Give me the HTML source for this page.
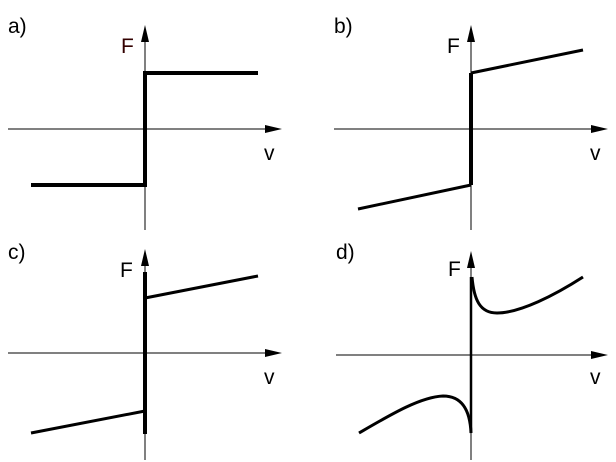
<!DOCTYPE html>
<html><head><style>
html,body{margin:0;padding:0;background:#fff;}
svg{display:block;}
text{font-family:"Liberation Sans",sans-serif;font-size:21px;fill:#000;}
</style></head><body>
<svg width="616" height="462" viewBox="0 0 616 462">
<g stroke="#000" fill="none">
<line x1="8" y1="129" x2="268" y2="129" stroke-width="1"/>
<line x1="145" y1="40" x2="145" y2="230" stroke-width="1"/>
<polyline points="31,185 145,185 145,73 258,73" stroke-width="4"/>
<line x1="334" y1="129" x2="594" y2="129" stroke-width="1"/>
<line x1="471" y1="40" x2="471" y2="230" stroke-width="1"/>
<line x1="471" y1="73" x2="471" y2="185" stroke-width="4"/>
<line x1="471" y1="73" x2="583" y2="50" stroke-width="3"/>
<line x1="358" y1="209" x2="471" y2="185" stroke-width="3"/>
<line x1="8" y1="353" x2="268" y2="353" stroke-width="1"/>
<line x1="145" y1="264" x2="145" y2="460" stroke-width="1"/>
<line x1="145" y1="272" x2="145" y2="434" stroke-width="4"/>
<line x1="145" y1="298" x2="258" y2="276" stroke-width="3"/>
<line x1="31" y1="433" x2="145" y2="411" stroke-width="3"/>
<line x1="336" y1="355" x2="594" y2="355" stroke-width="1"/>
<line x1="471" y1="266" x2="471" y2="460" stroke-width="1"/>
<line x1="471" y1="277" x2="471" y2="433" stroke-width="2.5"/>
<path d="M472,277 C474,300 480,313 497,313 C520,313 555,295 583,277" stroke-width="3"/>
<path d="M359,433 C390,415 420,397 443,396 C462,396 470,410 471,433" stroke-width="3"/>
</g>
<g fill="#000">
<polygon points="145,25 141,42 149,42"/>
<polygon points="282,129 265,125 265,133"/>
<polygon points="471,25 467,42 475,42"/>
<polygon points="608,129 591,125 591,133"/>
<polygon points="145,249 141,266 149,266"/>
<polygon points="282,353 265,349 265,357"/>
<polygon points="471,251 467,268 475,268"/>
<polygon points="608,355 591,351 591,359"/>
</g>
<text x="8" y="33">a)</text>
<text x="121" y="53" style="fill:#300">F</text>
<text x="264" y="160">v</text>
<text x="334" y="33">b)</text>
<text x="447" y="53">F</text>
<text x="590" y="160">v</text>
<text x="8" y="259">c)</text>
<text x="120" y="277">F</text>
<text x="264" y="384">v</text>
<text x="336" y="259">d)</text>
<text x="448" y="276">F</text>
<text x="590" y="384">v</text>
</svg>
</body></html>
